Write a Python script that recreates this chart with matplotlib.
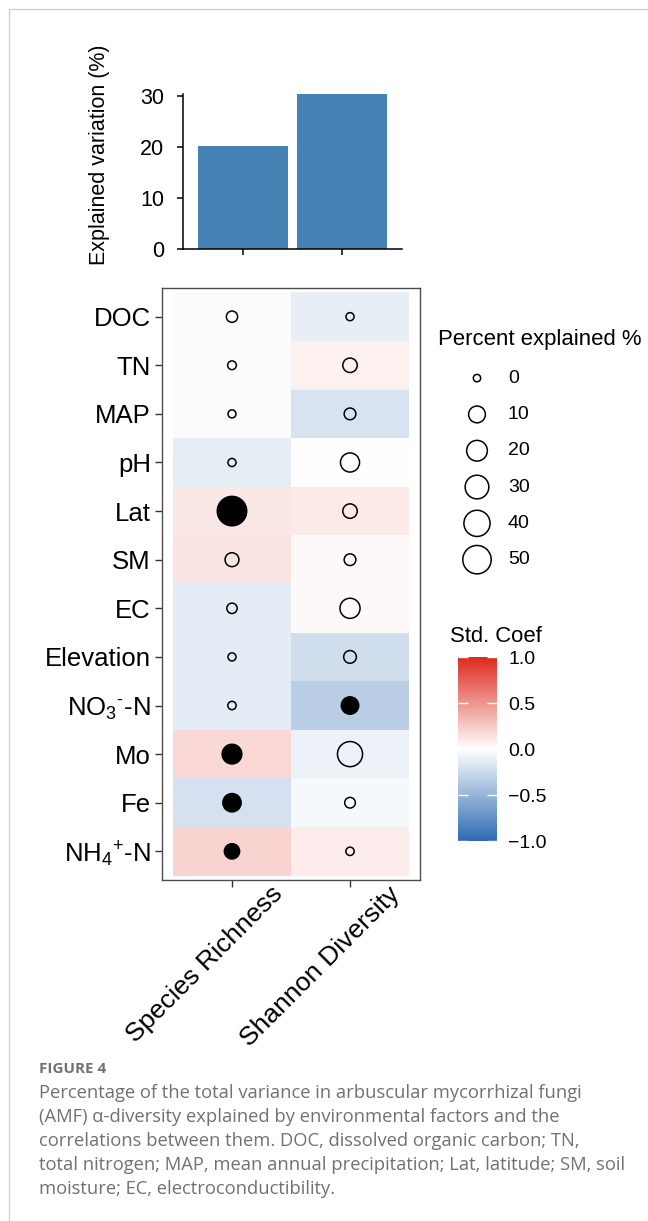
import numpy as np
import matplotlib
matplotlib.use("Agg")
import matplotlib.pyplot as plt
import matplotlib.transforms as mtransforms
from matplotlib.colors import LinearSegmentedColormap, Normalize
from matplotlib.cm import ScalarMappable
from matplotlib.patches import Rectangle
from matplotlib.ticker import FuncFormatter

plt.rcParams['font.family'] = ['Liberation Sans', 'DejaVu Sans']
plt.rcParams['mathtext.fontset'] = 'custom'
plt.rcParams['mathtext.rm'] = 'Liberation Sans'
plt.rcParams['mathtext.it'] = 'Liberation Sans:italic'
plt.rcParams['mathtext.default'] = 'regular'

# data
metrics = ["Species Richness", "Shannon Diversity"]
explained = [20.2, 30.3]

factors = ["DOC", "TN", "MAP", "pH", "Lat", "SM", "EC", "Elevation",
           r"NO$_3{}^{\text{-}}$-N", "Mo", "Fe", r"NH$_4{}^{+}$-N"]

coef_richness = [-0.03, -0.03, -0.03, -0.11, 0.11, 0.13, -0.13, -0.13, -0.13, 0.18, -0.20, 0.21]
coef_shannon = [-0.11, 0.07, -0.19, 0.0, 0.10, 0.03, 0.03, -0.23, -0.33, -0.09, -0.04, 0.09]

pct_richness = [1.7, 0.2, 0.05, 0.05, 55.0, 4.8, 1.0, 0.05, 0.1, 17.0, 13.5, 7.0]
pct_shannon = [0.05, 5.6, 2.1, 15.5, 5.6, 2.1, 18.3, 3.2, 11.3, 35.5, 1.2, 0.1]

sig_richness = [False, False, False, False, True, False, False, False, False, True, True, True]
sig_shannon = [False, False, False, False, False, False, False, False, True, False, False, False]

size_breaks = [0, 10, 20, 30, 40, 50]
cbar_ticks = [-1.0, -0.5, 0.0, 0.5, 1.0]

W, H = 648, 1221
DPI = 100


def px_box(x0, y0, x1, y1):
    return [x0 / W, 1 - y1 / H, (x1 - x0) / W, (y1 - y0) / H]


def pct_to_size(p):
    # ggplot-like area scale: diameter linear in sqrt(percent)
    d_px = 7.4 + 2.97 * np.sqrt(np.asarray(p, dtype=float))
    return (d_px * 72 / DPI) ** 2


cmap = LinearSegmentedColormap.from_list("coef", ["#2E6BB3", "#FFFFFF", "#DC2B1E"])
norm = Normalize(-1, 1)

fig = plt.figure(figsize=(W / DPI, H / DPI), dpi=DPI)

# page frame
fig.patches.append(Rectangle((9 / W, -0.1), 1.2, 1.1 - 9 / H, transform=fig.transFigure,
                             fill=False, edgecolor="#cfcfcf", linewidth=0.9))

# ---- bar chart of explained variation
ax_bar = fig.add_axes(px_box(183, 94, 402, 249))
xpos = np.arange(len(metrics))
ax_bar.bar(xpos, explained, width=0.9, color="#4682B4")
ax_bar.set_xlim(-0.6, len(metrics) - 0.4)
ax_bar.set_ylim(0, max(explained))
ax_bar.set_yticks([0, 10, 20, 30])
ax_bar.set_xticks(xpos)
ax_bar.set_xticklabels([])
for s in ["top", "right"]:
    ax_bar.spines[s].set_visible(False)
for s in ["left", "bottom"]:
    ax_bar.spines[s].set_linewidth(1.1)
ax_bar.tick_params(length=4.5, width=1.1, labelsize=15.5, pad=9)
ax_bar.set_ylabel("Explained variation (%)", fontsize=15.5)
ax_bar.yaxis.set_label_coords(-0.335, 0.61)

# ---- heatmap with bubbles
ax = fig.add_axes(px_box(162, 288, 420, 880))
coef = np.column_stack([coef_richness, coef_shannon])
ax.pcolormesh(np.arange(len(metrics) + 1) - 0.5, np.arange(len(factors) + 1) - 0.5,
              coef, cmap=cmap, norm=norm)
rows = np.arange(len(factors))
for j, (pct, sig) in enumerate([(pct_richness, sig_richness), (pct_shannon, sig_shannon)]):
    ax.scatter(np.full(len(factors), j), rows, s=pct_to_size(pct),
               facecolors=["black" if v else "none" for v in sig],
               edgecolors="black", linewidths=1.1, zorder=3)
ax.set_xlim(-0.593, len(metrics) - 0.407)
ax.set_ylim(len(factors) - 0.41, -0.59)
ax.set_yticks(rows)
ax.set_yticklabels(factors)
ax.set_xticks(xpos)
ax.set_xticklabels(metrics, rotation=45, ha="right", va="top", rotation_mode="anchor")
for spine in ax.spines.values():
    spine.set_color("#4d4d4d")
    spine.set_linewidth(1.0)
ax.tick_params(length=5, width=1, color="#333333", labelsize=18.5, pad=3)
ax.tick_params(axis="x", labelsize=19)
shift = mtransforms.ScaledTranslation(38 / DPI, 9 / DPI, fig.dpi_scale_trans)
for lab in ax.get_xticklabels():
    lab.set_transform(lab.get_transform() + shift)

# ---- size legend
ax_leg = fig.add_axes(px_box(430, 320, 648, 580))
ax_leg.set_xlim(0, 218)
ax_leg.set_ylim(len(size_breaks) - 0.44, -1.6)
ax_leg.axis("off")
ax_leg.scatter(np.full(len(size_breaks), 47), np.arange(len(size_breaks)),
               s=pct_to_size(size_breaks), facecolors="none", edgecolors="black",
               linewidths=1.1, clip_on=False)
for i, b in enumerate(size_breaks):
    ax_leg.text(78, i, str(b), fontsize=14, va="center", ha="left")
ax_leg.text(8, -1.07, "Percent explained %", fontsize=15.9, va="center", ha="left")

# ---- colour bar
cax = fig.add_axes(px_box(458, 657, 497, 841))
cb = fig.colorbar(ScalarMappable(norm=norm, cmap=cmap), cax=cax, ticks=cbar_ticks)
cb.outline.set_visible(False)
cax.yaxis.set_major_formatter(FuncFormatter(lambda v, _: f"{v:.1f}".replace("-", "\u2212")))
cax.tick_params(direction="in", length=7, width=1, color="white", left=True, right=True,
                labelsize=14, pad=8)
fig.text(450 / W, 1 - 637 / H, "Std. Coef", fontsize=15.9, va="center", ha="left")

# ---- caption
fig.text(39 / W, 1 - 1069 / H, "FIGURE 4", fontsize=11, fontweight="bold",
         color="#707173", family=["Open Sans", "DejaVu Sans"], va="center", ha="left")
caption = ("Percentage of the total variance in arbuscular mycorrhizal fungi\n"
           "(AMF) \u03b1-diversity explained by environmental factors and the\n"
           "correlations between them. DOC, dissolved organic carbon; TN,\n"
           "total nitrogen; MAP, mean annual precipitation; Lat, latitude; SM, soil\n"
           "moisture; EC, electroconductibility.")
fig.text(39 / W, 1 - 1084 / H, caption, fontsize=13.2, color="#707173",
         family=["Open Sans", "DejaVu Sans"], va="top", ha="left", linespacing=1.43)

fig.savefig("out.png", dpi=DPI)
